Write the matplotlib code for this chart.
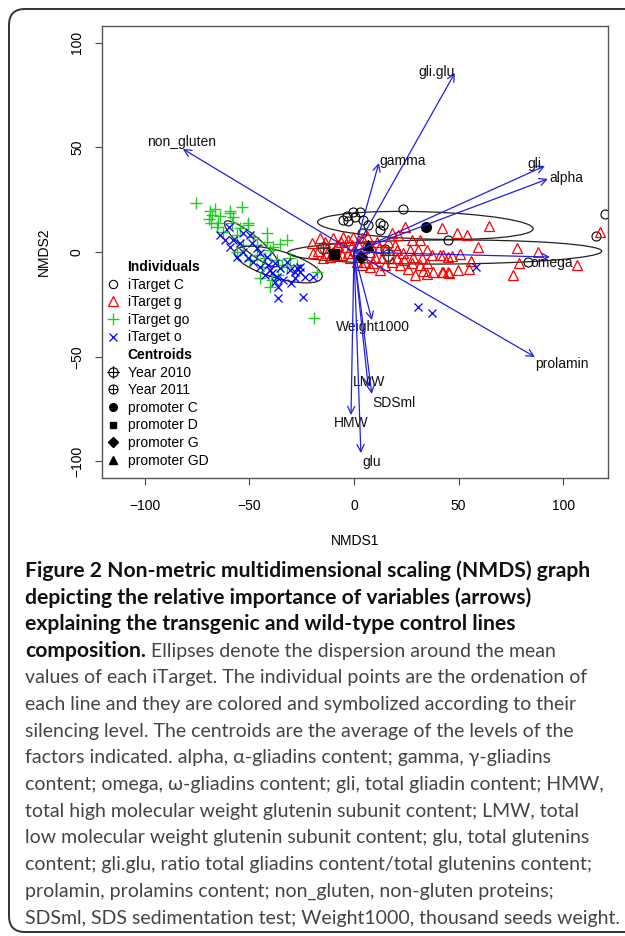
import numpy as np
import matplotlib
matplotlib.use("Agg")
import matplotlib.pyplot as plt
from matplotlib.lines import Line2D
from matplotlib.patches import Ellipse, FancyBboxPatch
from matplotlib.path import Path
from matplotlib.transforms import IdentityTransform

plt.rcParams['font.family'] = ['Liberation Sans', 'DejaVu Sans']

# --- ordination scores ---
go_pts = [(-75.5, 23.3), (-53.6, 21.6), (-68.8, 19.7), (-68.0, 17.7), (-69.1, 15.6), (-68.4, 13.7),
          (-64.0, 17.2), (-64.8, 13.7), (-59.2, 19.7), (-57.6, 16.9), (-58.4, 14.0), (-50.5, 13.7),
          (-54.4, 11.3), (-56.0, 8.1), (-48.1, 7.3), (-41.7, 4.9), (-35.3, 3.8), (-32.1, 5.7),
          (-40.1, 1.0), (-46.5, -1.4), (-42.5, -3.0), (-36.9, -3.8), (-49.7, -3.8), (-44.1, -7.0),
          (-32.1, -7.0), (-30.6, -3.0), (-36.1, -11.0), (-40.1, -16.6), (-39.3, -13.4), (-19.1, -31.7),
          (-17.8, -9.4), (-62.4, 9.7), (-52.9, 3.3), (-56.0, 0.1), (-46.5, 3.3), (-27.4, -6.2),
          (-41.7, 8.9), (-38.5, 2.5), (-44.9, -12.6), (-34.5, -6.2), (-65.6, 12.1), (-59.2, 18.5),
          (-50.5, 12.9), (-66.5, 20.5)]
o_pts = [(-59.5, 11.8), (-61.6, 5.7), (-57.6, 5.7), (-59.2, 2.5), (-54.4, 4.1), (-52.9, 0.1),
         (-49.7, 8.1), (-48.9, 4.1), (-46.5, 1.8), (-44.9, -0.6), (-41.7, -2.2), (-40.9, -6.2),
         (-37.7, -5.4), (-35.3, -7.8), (-32.1, -4.6), (-30.6, -8.6), (-27.4, -7.8), (-25.8, -9.4),
         (-23.4, -11.8), (-19.4, -11.8), (-28.2, -12.6), (-42.5, -11.0), (-39.3, -10.2), (-36.9, -11.8),
         (-37.7, -14.2), (-36.1, -16.6), (-36.1, -22.1), (-24.5, -21.3), (-40.1, -8.6), (-50.5, -3.0),
         (-56.0, -2.2), (-28.2, -9.4), (-25.8, -7.0), (-33.8, -13.4), (-44.9, -7.0), (-48.1, -4.6),
         (-52.9, 8.9), (30.4, -26.1), (37.4, -29.0), (58.3, -7.0), (-64.0, 8.0), (-30.0, -15.0)]
g_pts = [(-20.2, 4.1), (-19.4, -0.6), (-13.8, 4.9), (-13.0, -0.6), (-8.3, 3.3), (-9.9, 6.5),
         (-5.1, 7.3), (-13.0, 1.8), (-7.5, 3.3), (-4.3, 2.5), (-1.1, 3.3), (-5.9, -1.4), (-2.7, -0.6),
         (-11.5, -2.2), (-0.3, 7.3), (3.7, 6.5), (7.6, 0.1), (10.0, -2.2), (5.3, -4.6), (9.2, -5.4),
         (12.4, -8.6), (7.6, -7.0), (13.2, -3.0), (14.8, 1.0), (19.6, 3.3), (24.4, 12.1), (21.2, 8.1),
         (16.4, 4.9), (20.4, 1.0), (23.5, -0.6), (26.7, 1.0), (27.6, 5.7), (31.5, 5.7), (30.7, 1.0),
         (34.7, 1.0), (28.3, -2.2), (32.3, -3.0), (37.1, -1.4), (27.6, -5.4), (31.5, -6.2), (34.7, -5.4),
         (29.1, -11.0), (37.9, -9.4), (41.9, -9.4), (45.0, -9.4), (41.1, -1.4), (45.0, -2.2), (20.4, -3.0),
         (22.0, -6.2), (18.0, 8.9), (2.9, -1.4), (1.3, -4.6), (41.9, 11.3), (49.0, 8.9), (53.8, 8.1),
         (64.6, 12.4), (59.4, 2.5), (77.7, 2.1), (87.7, 0.1), (42.7, -1.4), (46.7, -1.9), (50.6, -1.1),
         (55.7, -4.1), (78.8, -5.4), (42.4, -9.7), (45.5, -10.2), (49.8, -8.6), (55.1, -8.1), (76.1, -11.0),
         (106.3, -6.2), (117.5, 9.7), (-17.0, 0.5), (-15.0, -3.0), (-10.0, 0.0), (-6.0, 5.0), (-3.0, 5.5),
         (0.0, 1.0), (2.0, 4.0), (5.0, 2.0), (-2.0, -3.0), (4.0, -6.0), (8.0, 3.0), (11.0, 5.0),
         (15.0, -6.0), (12.0, 2.0), (6.0, 7.5), (-8.0, -1.5), (-16.0, 6.5), (18.0, -5.0), (24.0, -4.0),
         (26.0, -8.0), (33.0, -9.0), (35.0, -10.5)]
c_pts = [(-5.1, 15.3), (-2.7, 14.8), (-3.5, 17.3), (0.5, 16.9), (2.9, 19.2), (-0.3, 19.2), (4.4, 15.3),
         (6.8, 12.9), (3.7, 8.9), (12.4, 13.7), (14.0, 12.9), (12.4, 10.5), (23.5, 20.5), (45.0, 5.7),
         (14.8, 1.4), (83.3, -4.6), (115.6, 7.8), (120.0, 18.0)]

# dispersion ellipses (iTarget C, g, go, o)
ell_cx = [34.1, 43.3, -48.9, -36.1]
ell_cy = [12.7, 0.0, 3.9, -6.0]
ell_w = [103.0, 150.0, 33.0, 43.5]
ell_h = [13.0, 11.5, 8.0, 13.0]
ell_ang = [-1.8, 0.3, -39.7, -16.4]

# centroids
year_names = ['Year 2010', 'Year 2011']
year_x = [16.4, -14.7]
year_y = [-1.4, 1.8]
prom_names = ['promoter C', 'promoter D', 'promoter G', 'promoter GD']
prom_x = [34.4, -9.6, 3.3, 6.8]
prom_y = [12.1, -1.0, -2.2, 3.3]

# fitted variables (arrows)
var_names = ['non_gluten', 'gli.glu', 'gamma', 'gli', 'alpha', 'omega', 'prolamin',
             'Weight1000', 'LMW', 'SDSml', 'HMW', 'glu']
var_x = [-81.7, 48.2, 11.9, 91.2, 92.6, 93.6, 86.4, 8.6, 6.8, 8.5, -1.4, 3.3]
var_y = [49.2, 85.5, 42.5, 41.1, 34.9, -2.4, -50.1, -32.5, -64.3, -67.8, -77.8, -96.0]

caption = [
    ("Figure 2 Non-metric multidimensional scaling (NMDS) graph", ""),
    ("depicting the relative importance of variables (arrows)", ""),
    ("explaining the transgenic and wild-type control lines", ""),
    ("composition.", " Ellipses denote the dispersion around the mean"),
    ("", "values of each iTarget. The individual points are the ordenation of"),
    ("", "each line and they are colored and symbolized according to their"),
    ("", "silencing level. The centroids are the average of the levels of the"),
    ("", "factors indicated. alpha, \u03b1-gliadins content; gamma, \u03b3-gliadins"),
    ("", "content; omega, \u03c9-gliadins content; gli, total gliadin content; HMW,"),
    ("", "total high molecular weight glutenin subunit content; LMW, total"),
    ("", "low molecular weight glutenin subunit content; glu, total glutenins"),
    ("", "content; gli.glu, ratio total gliadins content/total glutenins content;"),
    ("", "prolamin, prolamins content; non_gluten, non-gluten proteins;"),
    ("", "SDSml, SDS sedimentation test; Weight1000, thousand seeds weight."),
]

W, H = 625, 936
fig = plt.figure(figsize=(W / 100, H / 100), dpi=100)

# outer rounded frame (open on the right)
frame = FancyBboxPatch((9, 4), 700, H - 13, boxstyle="round,pad=0,rounding_size=16",
                       transform=IdentityTransform(), fill=False, ec='#333333', lw=1.4)
fig.add_artist(frame)

ax = fig.add_axes([102 / W, 1 - 478 / H, 506 / W, 452 / H])
ax.set_xlim(-120.3, 121.3)
ax.set_ylim(-107.9, 107.9)

def xy(pts):
    a = np.array(pts)
    return a[:, 0], a[:, 1]

gx, gy = xy(g_pts)
cx, cy = xy(c_pts)
gox, goy = xy(go_pts)
ox, oy = xy(o_pts)
ax.plot(cx, cy, 'o', ls='none', mfc='none', mec='black', ms=6.5, mew=0.8)
ax.plot(gx, gy, '^', ls='none', mfc='none', mec='red', ms=7.5, mew=0.9)
ax.plot(gox, goy, '+', ls='none', color='#22cc22', ms=8, mew=1.0)
ax.plot(ox, oy, 'x', ls='none', color='blue', ms=6, mew=0.9)

for i in range(len(ell_cx)):
    ax.add_patch(Ellipse((ell_cx[i], ell_cy[i]), ell_w[i], ell_h[i], angle=ell_ang[i],
                         fill=False, ec='#222222', lw=0.9))

# circle-plus marker for the year centroids
circ = Path.unit_circle()
plus_big = Path([(-1.35, 0), (1.35, 0), (0, -1.35), (0, 1.35)],
                [Path.MOVETO, Path.LINETO, Path.MOVETO, Path.LINETO])
plus_small = Path([(-1, 0), (1, 0), (0, -1), (0, 1)],
                  [Path.MOVETO, Path.LINETO, Path.MOVETO, Path.LINETO])
m2010 = Path.make_compound_path(circ, plus_big)
m2011 = Path.make_compound_path(circ, plus_small)
ax.plot(year_x[0], year_y[0], marker=m2010, ls='none', mfc='none', mec='#333333', ms=11, mew=0.8)
ax.plot(year_x[1], year_y[1], marker=m2011, ls='none', mfc='none', mec='#333333', ms=8, mew=0.8)

prom_markers = ['o', 's', 'D', '^']
prom_sizes = [7, 6.5, 6.5, 7.5]
for i in range(len(prom_names)):
    ax.plot(prom_x[i], prom_y[i], marker=prom_markers[i], ls='none', color='black', ms=prom_sizes[i])

# label offsets (pixels) relative to arrow tips
lab_off = {'non_gluten': (-1, 7), 'gli.glu': (-18, 1), 'gamma': (24, 2), 'gli': (-11, 2),
           'alpha': (18, 1), 'omega': (2, -6), 'prolamin': (27, -7), 'Weight1000': (1, -7),
           'LMW': (1, 5), 'SDSml': (22, -9), 'HMW': (0, -8), 'glu': (11, -9)}
for name, vx, vy in zip(var_names, var_x, var_y):
    ax.annotate('', xy=(vx, vy), xytext=(0, 0),
                arrowprops=dict(arrowstyle='->', color='#2020e0', lw=0.9,
                                shrinkA=0, shrinkB=0, mutation_scale=13))
    ax.annotate(name, xy=(vx, vy), xytext=lab_off[name], textcoords='offset pixels',
                ha='center', va='center', fontsize=10, color='#111111')

ax.set_xticks([-100, -50, 0, 50, 100])
ax.set_yticks([-100, -50, 0, 50, 100])
ax.tick_params(direction='out', length=5, width=0.8, color='#444444', labelsize=10)
ax.tick_params(axis='x', pad=10)
ax.tick_params(axis='y', pad=8)
for lab in ax.get_yticklabels():
    lab.set_rotation(90)
    lab.set_va('center')
for s in ax.spines.values():
    s.set_color('#555555')
    s.set_linewidth(1.0)
ax.set_xlabel('NMDS1', fontsize=10, labelpad=15)
ax.set_ylabel('NMDS2', fontsize=10, labelpad=14)

# legend
blank = Line2D([], [], ls='none')
handles = [blank,
           Line2D([], [], ls='none', marker='o', mfc='none', mec='black', ms=6, mew=0.8),
           Line2D([], [], ls='none', marker='^', mfc='none', mec='red', ms=7, mew=0.9),
           Line2D([], [], ls='none', marker='+', color='#22cc22', ms=8, mew=1.0),
           Line2D([], [], ls='none', marker='x', color='blue', ms=6, mew=0.9),
           blank,
           Line2D([], [], ls='none', marker=m2010, mfc='none', mec='black', ms=9, mew=0.8),
           Line2D([], [], ls='none', marker=m2011, mfc='none', mec='black', ms=6.5, mew=0.8),
           Line2D([], [], ls='none', marker='o', color='black', ms=5.5),
           Line2D([], [], ls='none', marker='s', color='black', ms=5),
           Line2D([], [], ls='none', marker='D', color='black', ms=5),
           Line2D([], [], ls='none', marker='^', color='black', ms=6)]
labels = ['Individuals', 'iTarget C', 'iTarget g', 'iTarget go', 'iTarget o',
          'Centroids'] + year_names + prom_names
leg = ax.legend(handles, labels, loc='upper left', bbox_to_anchor=(106 / W, 1 - 260 / H),
                bbox_transform=fig.transFigure, frameon=False, fontsize=10, handlelength=1.0,
                handletextpad=0.55, labelspacing=0.26, borderpad=0, borderaxespad=0)
for i in (0, 5):
    leg.get_texts()[i].set_fontweight('bold')

# caption
renderer = fig.canvas.get_renderer()
cap_font = ['Lato', 'DejaVu Sans']
for i, (b, r) in enumerate(caption):
    y = 1 - (571 + 26.7 * i) / H
    x = 25 / W
    if b:
        t = fig.text(x, y, b, fontsize=15.2, fontweight='bold', family=cap_font,
                     color='#111111', va='center')
        x = t.get_window_extent(renderer).x1 / W
    if r:
        fig.text(x, y, r, fontsize=14.0, family=cap_font, color='#444444', va='center')

fig.savefig('out.png', dpi=100)
